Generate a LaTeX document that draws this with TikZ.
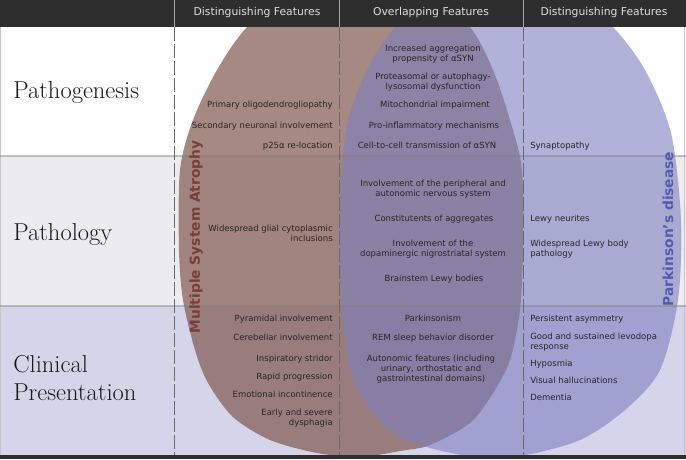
\documentclass[tikz,border=0pt]{standalone}
\usepackage{fontspec}
\usepackage{xcolor}
\usepackage{tikz}
\usetikzlibrary{positioning}
\newfontfamily\dvsans{DejaVu Sans}
\definecolor{hdrgray}{RGB}{46,46,46}
\definecolor{hdrtext}{RGB}{222,222,222}
\definecolor{rowgray}{RGB}{236,236,239}
\definecolor{rowlav}{RGB}{213,213,234}
\definecolor{msafill}{RGB}{128,88,78}
\definecolor{pdfill}{RGB}{125,127,192}
\definecolor{msatext}{RGB}{122,62,56}
\definecolor{pdtext}{RGB}{86,90,170}
\definecolor{gridgray}{RGB}{105,105,105}

\begin{document}
\begin{tikzpicture}[x=1pt,y=-1pt,semithick]
	\tikzstyle{hdr}=[text=hdrtext, font=\dvsans\fontsize{10.8}{13}\selectfont]
	\tikzstyle{cell}=[inner sep=0pt, text=black!85, font=\dvsans\fontsize{8.5}{10}\selectfont, text height=6.5pt, text depth=2pt]
	\tikzstyle{msaitem}=[cell, anchor=east, align=right]
	\tikzstyle{bothitem}=[cell, align=center]
	\tikzstyle{pditem}=[cell, anchor=west, align=left]
	\tikzstyle{rowlbl}=[inner sep=0pt, anchor=base west, text=black!90, font=\fontsize{24.5}{28}\selectfont]
	\tikzstyle{dislbl}=[inner sep=0pt, rotate=90, font=\dvsans\bfseries\fontsize{13.8}{16}\selectfont]
	\tikzstyle{sepline}=[line width=1.6pt, gray, opacity=0.45]

	\useasboundingbox (0,0) rectangle (686,459);
	\fill[white] (0,27) rectangle (686,156);
	\fill[rowgray] (0,156) rectangle (686,306);
	\fill[rowlav] (0,306) rectangle (686,455);
	\draw[gray!45, thin] (0.5,27) -- (0.5,455) (684.5,27) -- (684.5,455);

	% the two disease sets
	\begin{scope}
		\clip (0,27) rectangle (686,455);
		\fill[msafill, fill opacity=0.7] plot[smooth cycle] coordinates {(360,-30) (425,-12) (470,27) (493,70) (510,120) (522,170) (523,250) (520,310) (510,360) (493,393) (470,423) (430,445) (400,451) (360,457) (317,453) (270,440) (233,417) (208,383) (195,350) (183,300) (179,250) (180,170) (193,120) (217,70) (247,27) (295,-12)};
		\fill[pdfill, fill opacity=0.6] plot[smooth cycle] coordinates {(503,-30) (570,-12) (613,27) (645,70) (671,133) (681,220) (678,300) (660,370) (625,410) (580,440) (520,456) (470,456) (430,448) (400,437) (378,420) (360,393) (348,360) (340,270) (342,170) (348,120) (367,70) (395,27) (440,-12)};
	\end{scope}

	\draw[sepline] (0,156) -- (686,156);
	\draw[sepline] (0,306) -- (686,306);
	\foreach \cx in {174,339,523}
		\draw[gridgray, line width=0.8pt, dash pattern=on 14pt off 3pt] (\cx,27) -- (\cx,455);

	\fill[hdrgray] (0,0) rectangle (686,27);
	\fill[hdrgray] (0,455) rectangle (686,459);
	\foreach \cx in {174,339,523}
		\draw[gray!70, line width=0.6pt] (\cx,0) -- (\cx,27);

	\node[hdr] (h1) at (257,13) {Distinguishing Features};
	\node[hdr] (h2) at (431,13) {Overlapping Features};
	\node[hdr] (h3) at (604,13) {Distinguishing Features};

	\node[rowlbl] (r1) at (13,98) {Pathogenesis};
	\node[rowlbl] (r2) at (13,240) {Pathology};
	\node[rowlbl] (r3) at (13,372.5) {Clinical};
	\node[rowlbl] (r4) at (13,400.5) {Presentation};

	\node[dislbl, text=msatext] (msalbl) at (196,237) {Multiple System Atrophy};
	\node[dislbl, text=pdtext] (pdlbl) at (668,229) {Parkinson’s disease};

	\foreach \yy/\t [count=\i] in {105/Primary oligodendrogliopathy, 126/Secondary neuronal involvement, 146/p25α re-location, 239/{Widespread glial cytoplasmic\\inclusions}, 319/Pyramidal involvement, 338/Cerebellar involvement, 359/Inspiratory stridor, 377/Rapid progression, 395/Emotional incontinence, 423/{Early and severe\\dysphagia}}
		\node[msaitem] (msa\i) at (333,\yy) {\t};

	\foreach \xx/\yy/\t [count=\i] in {433/59/{Increased aggregation\\propensity of αSYN}, 433/87/{Proteasomal or autophagy-\\lysosomal dysfunction}, 435/105/Mitochondrial impairment, 434/126/Pro-inflammatory mechanisms, 427/146/Cell-to-cell transmission of αSYN, 433/194/{Involvement of the peripheral and\\autonomic nervous system}, 434/219/Constitutents of aggregates, 433/254/{Involvement of the\\dopaminergic nigrostriatal system}, 434/279/Brainstem Lewy bodies, 433/319/Parkinsonism, 433/338/REM sleep behavior disorder, 431/379/{Autonomic features (including\\urinary, orthostatic and\\gastrointestinal domains)}}
		\node[bothitem] (both\i) at (\xx,\yy) {\t};

	\foreach \yy/\t [count=\i] in {146/Synaptopathy, 219/Lewy neurites, 254/{Widespread Lewy body\\pathology}, 319/Persistent asymmetry, 347/{Good and sustained levodopa\\response}, 364/Hyposmia, 381/Visual hallucinations, 398/Dementia}
		\node[pditem] (pd\i) at (530,\yy) {\t};
\end{tikzpicture}
\end{document}
